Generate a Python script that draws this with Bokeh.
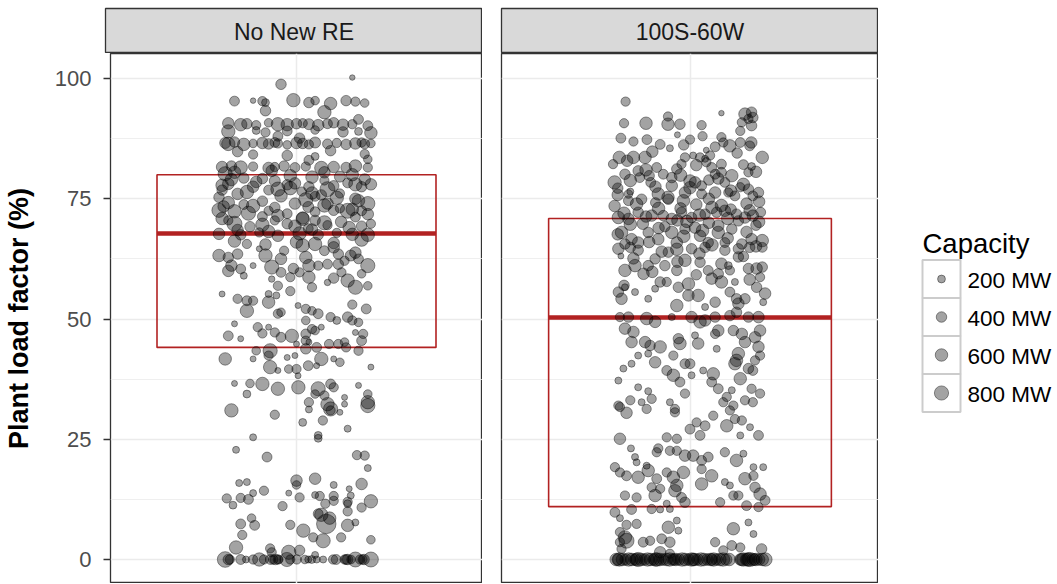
import numpy as np
from bokeh.plotting import figure
from bokeh.layouts import row, column
from bokeh.models import Range1d, FixedTicker, Grid, Spacer, ColumnDataSource, LinearAxis
from bokeh.embed import file_html
from bokeh.resources import INLINE
from bokeh.core.properties import value

FONT = "Liberation Sans"

panel_names = ["No New RE", "100S-60W"]
y_ticks = [0, 25, 50, 75, 100]
y_minor = [12.5, 37.5, 62.5, 87.5]
legend_caps = [200, 400, 600, 800]
legend_labels = ["200 MW", "400 MW", "600 MW", "800 MW"]

# box statistics per panel (lower hinge, median, upper hinge)
box_q1 = [44.1, 11.0]
box_med = [67.8, 50.3]
box_q3 = [80.0, 70.9]

# ---------------- "No New RE" plants: load factor (%), jitter offset, capacity (MW)
nore_plf = [
    100.2, 98.8, 95.3, 95.4, 95.3, 95.0, 95.5, 95.0, 95.4, 94.8,
    95.4, 95.2, 94.9, 93.3, 93.0, 90.7, 90.4, 90.6, 90.3, 90.8,
    90.5, 90.4, 90.6, 90.7, 90.5, 90.3, 90.6, 90.8, 90.4, 90.5,
    90.2, 89.0, 89.2, 88.8, 89.1, 89.3, 88.9, 89.0, 88.7, 86.6,
    86.4, 86.8, 86.3, 86.5, 86.6, 86.4, 86.7, 86.5, 86.2, 86.6,
    86.5, 86.3, 86.7, 86.4, 86.6, 86.3, 86.5, 86.7, 86.4, 86.5,
    84.2, 84.0, 83.8, 84.3, 81.6, 81.8, 81.5, 81.7, 81.4, 81.6,
    81.8, 81.5, 81.7, 81.4, 81.6, 81.5, 81.8, 81.5, 83.0, 83.2,
    80.2, 78.1, 80.5, 79.3, 77.5, 79.2, 76.8, 78.7, 77.0, 77.9,
    78.2, 76.5, 77.5, 75.5, 77.0, 77.7, 76.1, 78.3, 77.5, 78.0,
    75.3, 74.2, 72.4, 73.8, 74.5, 72.5, 73.2, 71.9, 74.0, 73.3,
    72.3, 74.0, 72.6, 72.5, 72.5, 74.0, 72.6, 70.5, 69.8, 69.2,
    71.3, 70.5, 69.8, 69.3, 68.8, 70.5, 69.5, 70.2, 71.2, 69.3,
    69.8, 67.7, 67.5, 68.0, 67.3, 67.8, 67.5, 67.9, 67.6, 67.5,
    79.8, 76.0, 75.8, 73.5, 75.0, 78.8, 71.0, 76.8, 73.0, 79.6,
    63.2, 62.8, 61.1, 60.4, 59.0, 65.6, 64.6, 63.2, 61.1, 60.8,
    59.7, 58.7, 59.7, 58.7, 56.6, 64.2, 65.3, 65.6, 64.2, 64.9,
    63.5, 61.4, 61.4, 62.1, 63.2, 62.5, 61.1, 59.7, 58.0, 56.6,
    56.9, 59.4, 56.9, 58.3, 57.6, 61.1, 61.1, 55.2, 54.2, 53.8,
    53.8, 51.7, 55.2, 53.5, 54.9, 51.1, 51.4, 52.8, 52.1, 51.7,
    51.1, 50.4, 49.7, 50.4, 49.7, 49.3, 52.1, 49.7, 49.0, 46.5,
    45.9, 48.3, 48.3, 47.2, 46.2, 46.5, 46.9, 47.9, 47.6, 48.3,
    45.5, 45.2, 44.8, 44.8, 44.8, 45.2, 44.1, 47.2, 46.9, 45.5,
    43.4, 43.4, 42.4, 42.0, 42.4, 43.8, 44.1, 41.7, 41.7, 41.0,
    43.4, 41.7, 41.7, 40.0, 39.3, 39.6, 39.6, 38.2, 40.3, 40.3,
    40.0, 36.6, 36.6, 36.5, 35.5, 34.4, 35.8, 35.5, 36.5, 35.8,
    34.1, 32.7, 34.4, 32.3, 33.7, 32.3, 36.2, 34.4, 32.7, 31.0,
    30.1, 28.5, 31.2, 28.9, 31.3, 31.0, 30.6, 32.0, 27.2, 25.4,
    25.8, 25.2, 22.8, 21.3, 21.7, 21.6, 19.0, 15.9, 16.1, 14.3,
    13.8, 16.4, 15.5, 16.8, 15.5, 14.7, 13.3, 15.7, 12.7, 11.3,
    12.8, 12.5, 13.8, 11.1, 12.9, 13.4, 13.2, 13.2, 12.2, 12.1,
    12.0, 11.6, 10.8, 11.6, 7.4, 8.6, 7.1, 7.2, 6.0, 9.5,
    9.3, 7.4, 8.6, 7.1, 7.7, 10.0, 4.6, 3.9, 4.6, 4.1,
    5.1, 2.5, 2.3, 1.5, 1.5, 1.9, 0.95, 0, 0, 0,
    0, 0, 0, 0, 0, 0, 0, 0, 0, 0,
    0, 0, 0, 0, 0, 0, 0, 0, 0, 0,
    0, 0, 0, 0, 0, 0, 0, 0, 0,
    79.0, 78.5, 77.2, 76.2, 75.2, 74.6, 73.4, 72.0, 71.5, 70.8,
    70.0, 69.0, 68.5, 68.2, 68.6, 66.2, 65.5, 66.0, 65.8, 66.5,
    63.5, 62.5, 62.8, 63.8, 60.5, 79.5, 78.0, 76.4, 75.6, 74.8,
    73.6, 72.8, 71.8, 70.9, 69.6, 80.8, 80.5, 80.0, 79.0, 77.8,
    84.8, 85.0, 88.0, 91.5, 87.6, 60.0, 58.5, 55.8, 53.0, 47.0,
]
nore_jit = [
    0.18, -0.05, -0.20, -0.14, -0.11, -0.10, -0.01, 0.04, 0.06, 0.11,
    0.16, 0.19, 0.22, -0.10, 0.09, -0.22, -0.18, -0.16, -0.13, -0.09,
    -0.06, -0.03, 0.00, 0.02, 0.04, 0.07, 0.10, 0.12, 0.15, 0.18,
    0.23, -0.22, -0.13, -0.10, -0.03, 0.06, 0.15, 0.20, 0.24, -0.23,
    -0.22, -0.20, -0.17, -0.14, -0.11, -0.09, -0.07, -0.06, -0.03, 0.00,
    0.02, 0.04, 0.06, 0.10, 0.13, 0.16, 0.19, 0.21, 0.22, 0.24,
    -0.14, -0.03, 0.06, 0.22, -0.24, -0.21, -0.18, -0.14, -0.09, -0.07,
    -0.04, -0.005, 0.03, 0.08, 0.12, 0.16, 0.19, 0.23, 0.04, 0.23,
    -0.23, -0.22, -0.20, -0.17, -0.14, -0.11, -0.09, -0.07, -0.06, -0.03,
    -0.005, 0.017, 0.04, 0.06, 0.10, 0.12, 0.14, 0.165, 0.21, 0.24,
    -0.25, -0.22, -0.20, -0.17, -0.11, -0.09, -0.07, -0.03, -0.005, 0.038,
    0.06, 0.10, 0.12, 0.165, 0.21, 0.23, -0.25, -0.22, -0.20, -0.15,
    -0.11, -0.07, -0.03, -0.005, 0.038, 0.06, 0.10, 0.144, 0.19, 0.21,
    0.24, -0.25, -0.18, -0.12, -0.06, 0.01, 0.07, 0.13, 0.18, 0.23,
    -0.02, -0.19, 0.08, -0.14, 0.19, 0.09, 0.02, -0.24, 0.14, 0.14,
    -0.25, -0.22, -0.21, -0.18, -0.17, -0.16, -0.12, -0.10, -0.14, -0.08,
    -0.05, -0.02, 0.01, 0.04, 0.05, -0.04, 0.02, 0.06, 0.09, 0.12,
    0.135, 0.10, 0.135, 0.155, 0.175, 0.20, 0.23, 0.145, 0.165, 0.19,
    0.23, 0.21, -0.06, -0.08, 0.10, 0.07, 0.04, -0.24, -0.19, -0.16,
    -0.14, -0.16, -0.09, -0.09, -0.065, -0.06, -0.05, 0.005, 0.03, 0.05,
    0.07, 0.11, 0.13, 0.165, 0.18, 0.20, 0.225, 0.03, -0.20, -0.22,
    -0.18, -0.125, -0.09, -0.07, -0.05, -0.015, 0.03, 0.05, 0.06, 0.08,
    0.03, 0.04, 0.00, 0.105, 0.135, 0.155, 0.16, 0.19, 0.215, 0.21,
    -0.13, -0.085, -0.09, -0.03, -0.005, 0.03, 0.065, 0.08, 0.12, 0.14,
    0.20, -0.23, -0.14, -0.085, -0.06, -0.025, 0.00, 0.005, 0.038, 0.065,
    0.24, -0.20, -0.15, -0.11, -0.06, -0.16, 0.006, 0.07, 0.11, 0.12,
    0.09, 0.04, 0.06, 0.10, 0.155, 0.155, 0.20, 0.23, 0.23, -0.21,
    -0.07, 0.02, 0.04, 0.085, 0.11, 0.11, 0.14, 0.23, 0.165, -0.14,
    0.07, 0.07, -0.195, -0.095, 0.195, 0.22, 0.23, -0.185, -0.16, -0.105,
    -0.025, 0.00, 0.00, 0.06, 0.12, 0.17, 0.175, 0.21, -0.225, -0.205,
    -0.18, -0.155, -0.14, -0.045, 0.01, 0.06, 0.075, 0.12, 0.12, 0.24,
    0.165, 0.165, 0.21, 0.093, -0.18, -0.145, -0.135, -0.02, 0.022, 0.07,
    0.08, 0.096, 0.107, 0.165, 0.19, 0.165, 0.054, 0.086, 0.144, 0.24,
    -0.175, -0.195, -0.085, -0.08, -0.025, 0.01, 0.06, -0.23, -0.22, -0.215,
    -0.18, -0.163, -0.14, -0.12, -0.105, -0.084, -0.068, -0.06, -0.057, -0.031,
    -0.02, 0.001, 0.027, 0.038, 0.049, 0.065, 0.086, 0.118, 0.128, 0.155,
    0.165, 0.176, 0.19, 0.213, 0.218, 0.24, -0.075, 0.16, 0.205,
    -0.21, -0.13, -0.02, 0.05, 0.13, 0.20, -0.235, -0.155, -0.06, 0.02,
    0.09, 0.17, -0.19, -0.09, 0.05, -0.20, -0.10, 0.00, 0.12, 0.21,
    -0.19, -0.05, 0.03, 0.19, -0.01, 0.05, 0.19, -0.16, -0.05, 0.03,
    0.09, 0.18, 0.23, -0.24, -0.11, -0.08, 0.09, 0.18, 0.22, -0.24,
    -0.19, 0.11, -0.06, 0.20, 0.01, -0.22, 0.12, -0.02, 0.18, -0.11,
]
nore_cap = [
    80, 400, 350, 80, 300, 200, 700, 400, 250, 600,
    400, 300, 250, 400, 700, 500, 600, 400, 300, 250,
    700, 600, 400, 300, 450, 500, 350, 400, 500, 300,
    350, 700, 200, 300, 350, 250, 400, 200, 600, 450,
    700, 400, 600, 250, 500, 400, 350, 300, 250, 500,
    400, 300, 450, 350, 300, 400, 500, 300, 350, 250,
    300, 400, 200, 300, 500, 400, 700, 300, 500, 300,
    400, 350, 300, 700, 500, 400, 600, 300, 350, 250,
    800, 500, 600, 400, 500, 400, 350, 450, 800, 400,
    500, 300, 400, 350, 900, 400, 300, 350, 400, 500,
    400, 600, 700, 350, 400, 300, 400, 350, 500, 450,
    350, 500, 400, 900, 350, 800, 800, 300, 900, 400,
    350, 300, 400, 600, 350, 400, 300, 500, 350, 400,
    300, 500, 400, 300, 500, 700, 400, 300, 600, 700,
    600, 500, 400, 700, 500, 300, 600, 400, 300, 450,
    600, 400, 500, 350, 150, 300, 100, 700, 100, 800,
    350, 300, 300, 600, 300, 300, 700, 700, 350, 500,
    400, 350, 400, 300, 450, 350, 800, 300, 700, 800,
    250, 250, 300, 120, 120, 300, 600, 100, 300, 350,
    300, 700, 150, 600, 150, 300, 250, 100, 300, 250,
    350, 300, 200, 400, 300, 250, 350, 250, 100, 350,
    100, 300, 100, 300, 350, 700, 350, 300, 250, 100,
    300, 100, 100, 300, 300, 250, 300, 100, 300, 350,
    250, 800, 300, 100, 100, 400, 350, 700, 100, 250,
    300, 600, 100, 700, 100, 250, 300, 100, 350, 100,
    100, 100, 250, 700, 700, 200, 700, 800, 350, 300,
    300, 300, 250, 700, 100, 100, 100, 250, 700, 700,
    300, 200, 150, 300, 800, 300, 100, 800, 150, 150,
    200, 200, 150, 350, 300, 300, 150, 150, 150, 300,
    100, 500, 250, 500, 150, 100, 150, 500, 300, 200,
    300, 350, 150, 300, 300, 150, 300, 300, 300, 700,
    300, 200, 300, 300, 350, 250, 350, 300, 700, 350,
    700, 1600, 600, 600, 150, 300, 300, 800, 300, 250,
    300, 700, 300, 300, 800, 400, 150, 1000, 400, 300,
    350, 150, 300, 700, 300, 350, 400, 300, 250, 800,
    300, 300, 250, 150, 200, 150, 150, 300, 350, 300,
    400, 250, 900, 300, 400, 900, 300, 350, 300,
    600, 500, 700, 600, 700, 600, 500, 800, 600, 700,
    800, 600, 500, 600, 500, 600, 500, 600, 500, 700,
    400, 500, 600, 500, 400, 600, 700, 700, 600, 800,
    700, 600, 500, 600, 700, 500, 500, 600, 500, 600,
    400, 400, 350, 350, 400, 500, 400, 300, 300, 300,
]

# ---------------- "100S-60W" plants
re_plf = [
    95.2, 92.8, 92.6, 93.0, 91.9, 91.6, 90.9, 90.2, 92.1, 90.5,
    90.7, 90.7, 90.5, 90.3, 89.1, 87.6, 86.9, 87.3, 86.3, 85.5,
    88.3, 87.3, 88.0, 85.1, 85.8, 87.8, 86.7, 86.0, 86.7, 86.0,
    86.7, 83.6, 82.1, 81.7, 80.5, 83.6, 83.6, 83.6, 82.2, 80.1,
    78.4, 80.8, 79.4, 79.8, 78.4, 81.5, 76.5, 76.0, 76.0, 80.1,
    79.4, 77.7, 81.2, 82.2, 83.6, 84.0, 83.6, 83.3, 84.0, 78.7,
    78.4, 77.7, 82.6, 81.5, 80.1, 82.2, 80.5, 79.8, 78.4, 77.4,
    77.0, 76.3, 75.6, 75.6, 76.3, 76.3, 76.0, 76.3, 74.6, 74.9,
    74.2, 74.9, 74.6, 71.1, 70.8, 72.2, 71.5, 71.5, 70.8, 72.2,
    71.1, 71.8, 72.2, 72.5, 71.8, 71.1, 71.5, 72.2, 70.4, 68.0,
    66.6, 65.9, 65.6, 68.0, 66.6, 68.0, 65.9, 68.7, 69.0, 67.3,
    65.9, 68.0, 68.7, 65.6, 66.6, 66.3, 65.9, 73.5, 73.0, 73.8,
    73.2, 74.0, 69.8, 70.0, 69.5, 77.2, 78.9, 69.2, 72.8, 70.3,
    64.6, 64.9, 64.3, 63.9, 64.5, 64.6, 64.9, 64.3, 64.6, 64.9,
    64.9, 63.1, 60.1, 61.1, 59.4, 61.1, 62.5, 61.1, 60.1, 62.2,
    61.8, 60.1, 59.4, 58.4, 57.7, 61.1, 60.1, 62.9, 60.5, 60.5,
    58.7, 57.7, 55.6, 54.2, 56.6, 55.6, 54.2, 56.3, 57.7, 57.7,
    52.8, 56.6, 57.3, 54.9, 54.9, 52.5, 53.5, 55.6, 54.2, 54.2,
    56.6, 55.3, 53.5, 53.2, 50.4, 50.1, 49.4, 50.4, 50.4, 49.4,
    49.7, 50.4, 50.7, 51.4, 50.4, 50.4, 50.4, 48.0, 47.3, 45.2,
    45.2, 44.5, 44.2, 42.4, 42.8, 40.7, 39.7, 41.0, 45.9, 44.9,
    42.4, 40.7, 40.7, 46.6, 44.9, 43.8, 47.6, 46.9, 47.6, 46.9,
    45.2, 46.2, 44.2, 47.6, 42.8, 41.4, 40.7, 39.7, 39.3, 41.4,
    42.4, 39.3, 38.3, 36.9, 38.3, 39.3, 38.6, 36.9, 35.5, 35.2,
    37.6, 35.5, 34.5, 37.2, 35.8, 35.0, 33.4, 33.1, 32.7, 32.7,
    32.0, 34.5, 32.7, 32.0, 33.1, 32.7, 33.8, 31.3, 31.7, 30.5,
    31.3, 30.6, 29.9, 31.0, 29.2, 28.9, 28.5, 27.1, 25.8, 27.8,
    27.8, 25.8, 27.5, 25.8, 25.4, 25.1, 25.1, 23.1, 21.3, 20.2,
    23.1, 22.3, 22.6, 22.6, 21.6, 21.6, 20.6, 21.3, 22.3, 20.6,
    22.0, 19.2, 19.2, 19.2, 18.1, 17.4, 17.1, 18.5, 19.5, 16.8,
    18.1, 17.1, 18.1, 15.4, 14.3, 18.8, 15.7, 17.4, 16.1, 15.4,
    16.8, 17.4, 15.0, 13.6, 12.3, 13.3, 12.9, 15.0, 13.3, 14.7,
    12.9, 11.9, 11.6, 10.5, 11.9, 13.3, 13.3, 11.2, 10.9, 9.8,
    8.6, 10.4, 10.5, 10.4, 7.2, 7.4, 5.7, 4.6, 3.9, 3.6,
    3.6, 3.9, 4.3, 6.7, 3.6, 8.1, 6.0, 6.4, 7.7, 5.3,
    3.6, 2.9, 1.9, 2.5, 2.2, 2.2, 1.5, 1.2, 0, 0,
    0, 0, 0, 0, 0, 0, 0, 0, 0, 0,
    0, 0, 0, 0, 0, 0, 0, 0, 0, 0,
    0, 0, 0, 0, 0, 0, 0, 0, 0, 0,
    0, 0, 0, 0, 0, 0, 0, 0, 0, 0,
    0, 0, 0, 0, 0, 0, 0, 0, 0, 0,
    0, 0, 0,
    84.8, 84.5, 82.9, 82.0, 81.0, 80.6, 79.9, 79.2, 78.8, 78.0,
    77.5, 77.3, 76.7, 75.8, 75.3, 75.0, 74.4, 73.9, 73.6, 73.0,
    72.6, 72.0, 71.6, 71.3, 70.9, 70.5, 70.2, 69.7, 69.4, 68.9,
    68.4, 68.1, 67.6, 67.2, 66.8, 66.0, 65.4, 65.1, 64.0, 63.6,
    63.0, 62.6, 61.9, 61.5, 60.8, 59.8, 59.2, 58.2, 57.0, 86.2,
]
re_jit = [
    -0.205, 0.10, 0.175, 0.196, 0.20, 0.186, 0.165, 0.196, -0.07, -0.07,
    -0.14, -0.21, -0.032, 0.037, 0.16, -0.22, -0.18, -0.137, -0.095, -0.064,
    -0.04, 0.0, 0.04, 0.052, 0.08, 0.10, 0.106, 0.127, 0.16, 0.19,
    0.195, 0.23, 0.17, 0.196, 0.186, -0.225, -0.18, -0.143, -0.245, -0.207,
    -0.24, -0.165, -0.16, -0.13, -0.125, -0.106, -0.19, -0.196, -0.101, -0.085,
    -0.058, -0.058, -0.042, -0.027, -0.016, 0.01, 0.032, 0.048, 0.064, 0.0,
    0.016, 0.037, 0.052, 0.069, 0.08, 0.10, 0.10, 0.133, 0.111, 0.16,
    0.186, 0.218, 0.20, 0.143, 0.122, 0.08, 0.037, -0.016, -0.021, -0.069,
    -0.11, -0.154, -0.196, -0.228, -0.196, -0.165, -0.122, -0.085, -0.058, -0.027,
    0.005, 0.048, 0.085, 0.111, 0.148, 0.175, 0.20, 0.225, 0.154, -0.218,
    -0.186, -0.165, -0.207, -0.133, -0.101, -0.058, -0.042, -0.016, 0.016, 0.032,
    0.058, 0.09, 0.133, 0.165, 0.196, 0.23, 0.111, -0.24, -0.10, 0.02,
    0.07, 0.18, -0.15, 0.06, 0.21, -0.23, 0.06, -0.08, 0.13, -0.01,
    -0.228, -0.19, -0.165, -0.069, -0.042, 0.005, 0.048, 0.111, 0.154, 0.23,
    0.19, -0.22, -0.207, -0.175, -0.148, -0.133, -0.111, -0.08, -0.042, -0.016,
    0.032, 0.058, 0.09, 0.069, 0.10, 0.122, 0.127, 0.154, 0.186, 0.212,
    0.223, 0.143, -0.228, -0.218, -0.207, -0.175, -0.133, -0.111, -0.095, -0.074,
    -0.042, -0.037, -0.005, 0.026, -0.005, 0.048, 0.08, 0.127, 0.148, 0.175,
    0.212, 0.239, 0.233, 0.154, -0.196, -0.138, -0.111, -0.058, 0.005, 0.032,
    0.048, 0.08, 0.127, 0.148, 0.186, 0.218, -0.223, -0.207, -0.18, -0.186,
    -0.143, -0.127, -0.095, -0.165, -0.133, -0.186, -0.212, -0.111, -0.037, -0.032,
    -0.053, -0.016, 0.0, 0.016, 0.026, 0.085, 0.09, 0.08, 0.138, 0.165,
    0.175, 0.207, 0.218, 0.223, 0.154, 0.148, 0.143, 0.186, 0.20, 0.207,
    0.223, -0.074, -0.053, -0.032, 0.005, 0.042, 0.074, 0.069, 0.09, 0.133,
    0.16, 0.196, 0.223, -0.228, -0.165, -0.133, -0.122, -0.19, -0.154, -0.064,
    -0.228, -0.016, 0.106, 0.138, 0.175, 0.20, 0.117, -0.048, -0.223, -0.202,
    -0.138, -0.048, 0.074, 0.127, 0.143, 0.165, 0.021, 0.0, 0.032, 0.117,
    0.048, 0.16, 0.191, 0.218, -0.074, -0.042, -0.223, -0.188, -0.175, -0.17,
    -0.101, -0.106, -0.064, -0.042, -0.016, 0.01, 0.037, 0.058, 0.111, 0.148,
    0.17, 0.202, 0.233, -0.239, -0.223, -0.202, -0.165, -0.133, -0.138, -0.106,
    -0.074, -0.053, -0.021, -0.042, -0.048, 0.037, 0.037, 0.069, 0.111, 0.127,
    0.175, 0.202, 0.207, 0.223, 0.239, -0.207, -0.17, -0.122, -0.111, -0.095,
    -0.027, -0.016, -0.074, -0.064, 0.096, 0.138, 0.154, 0.18, 0.218, -0.239,
    -0.223, -0.186, -0.122, -0.095, -0.202, -0.17, -0.223, -0.207, -0.202, -0.223,
    -0.149, -0.127, -0.09, -0.069, -0.064, -0.042, -0.037, 0.138, 0.186, 0.202,
    0.08, 0.133, 0.106, 0.16, 0.228, -0.218, -0.095, -0.064, -0.235, -0.225,
    -0.215, -0.205, -0.195, -0.185, -0.175, -0.165, -0.155, -0.145, -0.135, -0.125,
    -0.115, -0.105, -0.095, -0.085, -0.075, -0.065, -0.055, -0.045, -0.035, -0.025,
    -0.015, -0.005, 0.005, 0.015, 0.025, 0.035, 0.045, 0.055, 0.065, 0.075,
    0.085, 0.095, 0.105, 0.115, 0.125, 0.16, 0.17, 0.18, 0.19, 0.20,
    0.21, 0.22, 0.23, 0.24, -0.23, -0.17, -0.11, -0.05, 0.01, 0.07,
    0.165, 0.185, 0.205,
    -0.12, 0.15, -0.20, 0.02, -0.14, 0.21, -0.03, 0.09, -0.19, 0.17,
    -0.11, 0.00, 0.13, -0.23, -0.07, 0.06, 0.22, -0.17, 0.10, -0.03,
    0.19, -0.21, 0.03, -0.14, 0.12, -0.04, 0.22, -0.19, 0.09, -0.10,
    0.04, 0.18, -0.23, -0.02, 0.12, -0.13, 0.07, 0.21, -0.09, 0.03,
    0.17, -0.18, -0.04, 0.10, 0.23, -0.12, 0.02, 0.19, -0.21, -0.02,
]
re_cap = [
    300, 80, 600, 400, 400, 300, 300, 400, 300, 600,
    600, 300, 400, 300, 300, 350, 300, 350, 350, 150,
    100, 300, 300, 100, 350, 300, 300, 600, 350, 350,
    500, 600, 350, 200, 300, 600, 600, 600, 300, 400,
    700, 400, 350, 400, 350, 350, 150, 250, 600, 350,
    400, 500, 400, 300, 300, 150, 300, 150, 300, 600,
    500, 350, 300, 350, 350, 350, 350, 600, 350, 300,
    400, 400, 350, 350, 300, 500, 350, 500, 600, 400,
    350, 400, 350, 600, 500, 400, 500, 400, 500, 400,
    400, 400, 400, 500, 400, 500, 500, 350, 400, 600,
    500, 500, 400, 400, 500, 600, 500, 400, 500, 500,
    400, 600, 400, 400, 500, 600, 350, 500, 600, 500,
    600, 500, 500, 500, 400, 400, 400, 400, 450, 600,
    500, 400, 400, 400, 600, 400, 400, 400, 400, 350,
    400, 100, 600, 600, 500, 400, 400, 400, 400, 600,
    400, 350, 400, 500, 600, 200, 300, 400, 400, 500,
    300, 150, 400, 500, 150, 150, 150, 150, 400, 300,
    600, 400, 600, 600, 500, 150, 400, 350, 400, 400,
    400, 500, 150, 500, 400, 600, 500, 150, 500, 600,
    500, 400, 400, 400, 400, 500, 300, 500, 500, 500,
    500, 400, 600, 150, 150, 150, 150, 500, 400, 600,
    300, 350, 350, 150, 500, 150, 500, 300, 400, 500,
    500, 500, 500, 500, 600, 600, 600, 400, 350, 300,
    300, 350, 600, 350, 150, 150, 600, 350, 350, 150,
    600, 300, 300, 150, 150, 150, 300, 300, 150, 150,
    300, 300, 300, 300, 300, 300, 300, 300, 300, 500,
    300, 300, 300, 300, 300, 300, 300, 350, 350, 600,
    350, 150, 150, 350, 300, 300, 500, 150, 150, 150,
    300, 300, 300, 300, 500, 500, 350, 350, 300, 600,
    150, 150, 150, 300, 300, 350, 600, 600, 150, 350,
    300, 600, 600, 600, 600, 300, 600, 600, 150, 150,
    600, 300, 400, 600, 350, 300, 300, 300, 600, 300,
    350, 400, 150, 150, 300, 300, 300, 350, 300, 350,
    150, 350, 300, 150, 300, 300, 300, 700, 900, 300,
    350, 300, 350, 600, 400, 150, 150, 600, 150, 150,
    300, 350, 300, 300, 400, 300, 500, 300, 600, 700,
    600, 500, 700, 600, 500, 800, 600, 500, 700, 600,
    500, 700, 600, 500, 600, 700, 500, 600, 500, 700,
    600, 500, 700, 600, 500, 700, 600, 500, 600, 700,
    500, 600, 700, 500, 600, 500, 700, 600, 800, 600,
    600, 500, 600, 700, 500, 600, 700, 500, 600, 500,
    600, 700, 500,
    500, 400, 500, 500, 600, 500, 600, 500, 600, 600,
    500, 600, 500, 500, 600, 500, 500, 600, 600, 500,
    500, 600, 600, 500, 600, 500, 500, 600, 500, 500,
    600, 500, 500, 600, 500, 500, 600, 500, 500, 500,
    400, 500, 500, 500, 400, 500, 400, 500, 400, 400,
]

assert len(nore_plf) == len(nore_jit) == len(nore_cap)
assert len(re_plf) == len(re_jit) == len(re_cap)


def diameter(caps):
    # area-proportional size scale (pixels)
    return 1.5 + 0.45 * np.sqrt(np.asarray(caps, dtype=float))


POINT_STYLE = dict(marker="circle", fill_color="black", fill_alpha=0.36,
                   line_color="black", line_alpha=0.5, line_width=0.8)
GRID_COL = "#EBEBEB"
BORDER_COL = "#333333"
BOX_COL = "#B22222"
Y0, Y1 = -4.99, 105.2


def strip_default_grids(p):
    p.center = [c for c in p.center if not isinstance(c, Grid)]


def make_strip(label, width, left_border):
    s = figure(width=width, height=53, x_range=Range1d(0, 1), y_range=Range1d(0, 1),
               output_backend="svg", toolbar_location=None,
               x_axis_location=None, y_axis_location=None,
               min_border_left=left_border, min_border_right=0,
               min_border_top=8, min_border_bottom=0)
    strip_default_grids(s)
    s.background_fill_color = "#D9D9D9"
    s.border_fill_color = "white"
    s.outline_line_color = BORDER_COL
    s.outline_line_width = 1.3
    s.text(x=[0.5], y=[0.48], text=[label], text_align="center", text_baseline="middle",
           text_font=value(FONT), text_font_size="23px", text_color="#1A1A1A")
    return s


def make_panel(plf, jit, cap, q1, med, q3, width, left_border, with_axis):
    p = figure(width=width, height=530, x_range=Range1d(0.4, 1.6), y_range=Range1d(Y0, Y1),
               output_backend="svg", toolbar_location=None,
               x_axis_location=None, y_axis_location=None,
               min_border_left=left_border, min_border_right=0,
               min_border_top=0, min_border_bottom=0)
    strip_default_grids(p)
    p.background_fill_color = "white"
    p.border_fill_color = "white"
    p.outline_line_color = BORDER_COL
    p.outline_line_width = 1.3

    yt = FixedTicker(ticks=y_ticks, minor_ticks=y_minor)
    p.add_layout(Grid(dimension=1, ticker=yt, grid_line_color=GRID_COL, grid_line_width=1.5,
                      minor_grid_line_color=GRID_COL, minor_grid_line_width=0.8))
    p.add_layout(Grid(dimension=0, ticker=FixedTicker(ticks=[1]), grid_line_color=GRID_COL,
                      grid_line_width=1.5))

    if with_axis:
        ax = LinearAxis(ticker=FixedTicker(ticks=y_ticks), axis_label="Plant load factor (%)")
        ax.axis_line_color = None
        ax.major_tick_out = 7
        ax.major_tick_in = 0
        ax.minor_tick_out = 0
        ax.minor_tick_in = 0
        ax.major_tick_line_color = BORDER_COL
        ax.major_tick_line_width = 1.3
        ax.major_label_text_font = FONT
        ax.major_label_text_font_size = "22px"
        ax.major_label_text_color = "#4D4D4D"
        ax.major_label_standoff = 12
        ax.axis_label_text_font = FONT
        ax.axis_label_text_font_size = "27px"
        ax.axis_label_text_font_style = "bold"
        ax.axis_label_text_color = "black"
        ax.axis_label_standoff = 18
        p.add_layout(ax, "left")

    # box (hinges + median), drawn beneath the points
    p.quad(left=[0.55], right=[1.45], bottom=[q1], top=[q3], fill_color=None,
           line_color=BOX_COL, line_width=1.6)
    p.segment(x0=[0.55], x1=[1.45], y0=[med], y1=[med], line_color=BOX_COL, line_width=4.5)

    src = ColumnDataSource(dict(x=[1 + j for j in jit], y=plf, size=diameter(cap)))
    p.scatter("x", "y", size="size", source=src, **POINT_STYLE)
    return p


strip1 = make_strip(panel_names[0], 482, 105)
strip2 = make_strip(panel_names[1], 396, 19)
p1 = make_panel(nore_plf, nore_jit, nore_cap, box_q1[0], box_med[0], box_q3[0], 482, 105, True)
p2 = make_panel(re_plf, re_jit, re_cap, box_q1[1], box_med[1], box_q3[1], 396, 19, False)

# legend panel (data coordinates equal page pixels)
lg = figure(width=178, height=530, x_range=Range1d(878, 1056), y_range=Range1d(583, 53),
            output_backend="svg", toolbar_location=None,
            x_axis_location=None, y_axis_location=None,
            min_border_left=0, min_border_right=0, min_border_top=0, min_border_bottom=0)
strip_default_grids(lg)
lg.outline_line_color = None
lg.background_fill_color = "white"
lg.border_fill_color = "white"
key_y = [278.5, 316.5, 354.5, 392.5]
lg.text(x=[922], y=[243], text=["Capacity"], text_baseline="middle",
        text_font=value(FONT), text_font_size="27.5px", text_color="black")
lg.rect(x=[941] * 4, y=key_y, width=38, height=38, fill_color="white",
        line_color="#CCCCCC", line_width=2)
lg.scatter(x=[941] * 4, y=key_y, size=diameter(legend_caps), **POINT_STYLE)
lg.text(x=[967] * 4, y=[k + 1 for k in key_y], text=legend_labels, text_baseline="middle",
        text_font=value(FONT), text_font_size="22.5px", text_color="black")

layout = column(row(strip1, strip2, Spacer(width=178, height=53)),
                row(p1, p2, lg))

open("out.html", "w").write(file_html(layout, INLINE))
